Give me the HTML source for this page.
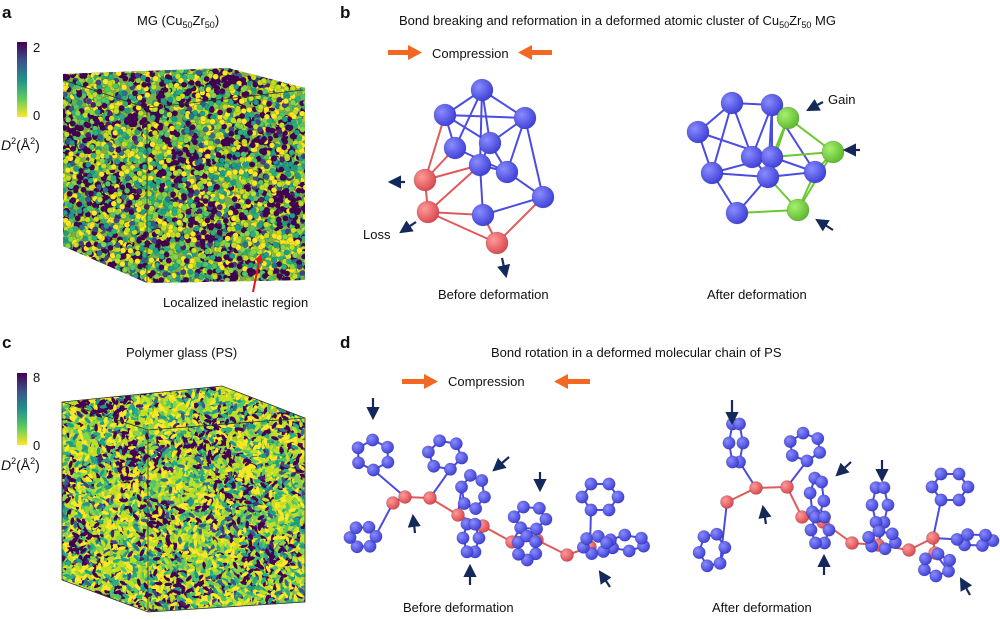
<!DOCTYPE html>
<html><head><meta charset="utf-8">
<style>
html,body{margin:0;padding:0;background:#fff;}
svg{display:block;font-family:"Liberation Sans",sans-serif;}
</style></head>
<body>
<svg id="s" width="1000" height="619" viewBox="0 0 1000 619" xmlns="http://www.w3.org/2000/svg">
<defs>
<linearGradient id="vir" x1="0" y1="1" x2="0" y2="0">
<stop offset="0" stop-color="#fde725"/><stop offset="0.25" stop-color="#5ec962"/><stop offset="0.5" stop-color="#21918c"/><stop offset="0.75" stop-color="#3b528b"/><stop offset="1" stop-color="#440154"/>
</linearGradient>
<radialGradient id="gb" cx="0.35" cy="0.35" r="0.7"><stop offset="0" stop-color="#8a8cff"/><stop offset="1" stop-color="#3c3ed6"/></radialGradient>
<radialGradient id="gr" cx="0.35" cy="0.35" r="0.7"><stop offset="0" stop-color="#ff9a9a"/><stop offset="1" stop-color="#d9474c"/></radialGradient>
<radialGradient id="gg" cx="0.35" cy="0.35" r="0.7"><stop offset="0" stop-color="#a6f070"/><stop offset="1" stop-color="#5cb82a"/></radialGradient>
<clipPath id="ca"><polygon points="63,74 228,68 305,88 305,280 147,283 63,246"/></clipPath>
<clipPath id="cc"><polygon points="62,402 222,386 305,418 305,602 148,612 62,580"/></clipPath>
<marker id="ah" markerWidth="6" markerHeight="6" refX="5" refY="3" orient="auto" markerUnits="strokeWidth"><path d="M0,0 L6,3 L0,6 z" fill="#14285a"/></marker>
</defs>
<g font-size="13" fill="#111">
<text x="2" y="18" font-weight="bold" font-size="17">a</text>
<text x="340" y="18" font-weight="bold" font-size="17">b</text>
<text x="2" y="348" font-weight="bold" font-size="17">c</text>
<text x="340" y="348" font-weight="bold" font-size="17">d</text>
<text x="137" y="25">MG (Cu<tspan font-size="9" dy="3">50</tspan><tspan dy="-3">Zr</tspan><tspan font-size="9" dy="3">50</tspan><tspan dy="-3">)</tspan></text>
<text x="399" y="25">Bond breaking and reformation in a deformed atomic cluster of Cu<tspan font-size="9" dy="3">50</tspan><tspan dy="-3">Zr</tspan><tspan font-size="9" dy="3">50</tspan><tspan dy="-3"> MG</tspan></text>
<text x="126" y="357">Polymer glass (PS)</text>
<text x="491" y="357">Bond rotation in a deformed molecular chain of PS</text>
<text x="432" y="58">Compression</text>
<text x="448" y="386">Compression</text>
<text x="438" y="299">Before deformation</text>
<text x="707" y="299">After deformation</text>
<text x="403" y="612">Before deformation</text>
<text x="712" y="612">After deformation</text>
<text x="163" y="307">Localized inelastic region</text>
<text x="363" y="239">Loss</text>
<text x="828" y="104">Gain</text>
<text x="33" y="52">2</text><text x="33" y="120">0</text>
<text x="33" y="382">8</text><text x="33" y="450">0</text>
<text x="1" y="150" font-size="14"><tspan font-style="italic">D</tspan><tspan font-size="9" dy="-6">2</tspan><tspan dy="6">(Å</tspan><tspan font-size="9" dy="-6">2</tspan><tspan dy="6">)</tspan></text>
<text x="1" y="470" font-size="14"><tspan font-style="italic">D</tspan><tspan font-size="9" dy="-6">2</tspan><tspan dy="6">(Å</tspan><tspan font-size="9" dy="-6">2</tspan><tspan dy="6">)</tspan></text>
</g>
<rect x="17" y="42" width="10" height="75" fill="url(#vir)"/>
<rect x="17" y="373" width="10" height="72" fill="url(#vir)"/>
<g fill="#f26722">
<rect x="388" y="50" width="22" height="5"/><polygon points="408,45 422,52.5 408,60"/>
<rect x="530" y="50" width="22" height="5"/><polygon points="532,45 518,52.5 532,60"/>
<rect x="402" y="379" width="24" height="5"/><polygon points="424,374 438,381.5 424,389"/>
<rect x="566" y="379" width="24" height="5"/><polygon points="568,374 554,381.5 568,389"/>
</g>
<g id="cubeA" clip-path="url(#ca)"></g>
<g id="cubeC" clip-path="url(#cc)"></g>
<g fill="none" stroke="#333" stroke-width="0.8">
<polyline points="147,108 147,282"/><polyline points="63,80 147,108 303,90"/>
<polyline points="148,430 148,612"/><polyline points="62,402 148,430 305,418"/>
<polygon points="62,402 222,386 305,418 305,602 148,612 62,580"/>
</g>
<line x1="253" y1="292" x2="259" y2="262" stroke="#e8141e" stroke-width="2"/>
<polygon points="255,260 263,263 261,254" fill="#e8141e"/>
<g id="mol"></g>
</svg>
<script>
var NS="http://www.w3.org/2000/svg";
function el(p,t,a){var e=document.createElementNS(NS,t);for(var k in a)e.setAttribute(k,a[k]);p.appendChild(e);return e;}
var seed=7;function rnd(){seed=(seed*16807)%2147483647;return seed/2147483647;}
var vir=["#fde725","#c2df23","#86d549","#52c569","#2ab07f","#1e9b8a","#25858e","#2d708e","#38588c","#433e85","#482173","#440154"];
function cube(g,x0,y0,x1,y1,n,r,bias,elong,yb){
 g=document.getElementById(g);
 el(g,"rect",{x:x0,y:y0,width:x1-x0,height:y1-y0,fill:elong?"#9cc840":"#7aae4a"});
 for(var i=0;i<n;i++){var x=x0+rnd()*(x1-x0),y=y0+rnd()*(y1-y0);
  var blob=Math.sin(x*0.05+y*0.03)*Math.cos(y*0.06-x*0.02);
  var v=rnd();var c;
  if(v<bias+blob*0.25) c="#440154"; else if(rnd()<yb) c=vir[Math.floor(rnd()*2)]; else c=vir[Math.floor(rnd()*6)];
  if(rnd()<0.08)c=vir[7+Math.floor(rnd()*4)];
  if(elong){el(g,"ellipse",{cx:x,cy:y,rx:r*1.8,ry:r*0.8,fill:c,transform:"rotate("+(rnd()*180)+" "+x+" "+y+")"});}
  else el(g,"circle",{cx:x,cy:y,r:r,fill:c,stroke:"rgba(0,0,0,0.25)","stroke-width":0.4});
 }
}
cube("cubeA",60,65,308,288,5200,2.8,0.28,false,0.2);
cube("cubeC",60,384,308,614,8000,2.2,0.2,true,0.35);
var M=document.getElementById("mol");
function bond(a,b,c){el(M,"line",{x1:a[0],y1:a[1],x2:b[0],y2:b[1],stroke:c||"#4b4de0","stroke-width":2});}
function atom(p,r,f){el(M,"circle",{cx:p[0],cy:p[1],r:r,fill:f,stroke:"rgba(0,0,40,0.25)","stroke-width":0.6});}
function arrow(x1,y1,x2,y2){el(M,"line",{x1:x1,y1:y1,x2:x2,y2:y2,stroke:"#14285a","stroke-width":2.2,"marker-end":"url(#ah)"});}
var B=[[482,90],[445,115],[525,118],[455,148],[490,143],[480,165],[507,172],[543,197],[483,215]];
var R=[[425,180],[428,212],[497,243]];
[[0,1],[0,2],[0,3],[0,5],[1,2],[1,4],[1,3],[2,4],[2,6],[2,7],[3,6],[4,5],[5,6],[5,8],[6,7],[7,8],[4,6],[0,4]].forEach(function(e){bond(B[e[0]],B[e[1]]);});
[[0,1],[1,2],[0,[445,115]],[0,B[5]],[0,B[3]],[1,B[5]],[1,B[8]],[2,B[8]],[2,B[7]]].forEach(function(e){bond(R[e[0]],typeof e[1]=="number"?R[e[1]]:e[1],"#e05a5a");});
B.forEach(function(p){atom(p,11,"url(#gb)");});R.forEach(function(p){atom(p,11,"url(#gr)");});
var A=[[732,103],[772,105],[698,132],[752,157],[772,157],[712,173],[768,177],[815,172],[737,213]];
var G=[[788,118],[833,152],[798,210]];
[[0,1],[0,2],[0,5],[0,3],[1,3],[1,4],[1,6],[2,5],[2,4],[3,4],[3,6],[4,7],[5,6],[5,8],[6,8],[6,7],[4,5],[1,7]].forEach(function(e){bond(A[e[0]],A[e[1]]);});
[[0,1],[1,2],[0,A[4]],[0,A[6]],[1,A[7]],[2,A[6]],[2,A[7]],[2,A[8]],[1,A[4]]].forEach(function(e){bond(G[e[0]],typeof e[1]=="number"?G[e[1]]:e[1],"#6cc832");});
A.forEach(function(p){atom(p,11,"url(#gb)");});G.forEach(function(p){atom(p,11,"url(#gg)");});
arrow(405,182,390,182);arrow(416,222,401,232);arrow(502,258,506,276);
arrow(823,102,808,110);arrow(860,150,845,150);arrow(833,230,817,220);
function ring(cx,cy,rx,ry,rot){var p=[];for(var i=0;i<6;i++){var a=i*Math.PI/3+(rot||0);p.push([cx+rx*Math.cos(a),cy+ry*Math.sin(a)]);}
 for(var i=0;i<6;i++)bond(p[i],p[(i+1)%6]);return p;}
function chain(red,rings,links){
 var all=[];
 for(var i=0;i<red.length-1;i++)bond(red[i],red[i+1],"#e05a5a");
 rings.forEach(function(r){all.push(ring(r[0],r[1],r[2],r[3],r[4]));});
 links.forEach(function(l){bond(red[l[0]],all[l[1]][l[2]]);});
 red.forEach(function(p){atom(p,6.5,"url(#gr)");});
 all.forEach(function(rg){rg.forEach(function(p){atom(p,6.2,"url(#gb)");});});
}
chain([[393,503],[405,497],[430,498],[458,515],[483,526],[512,542],[537,540],[567,555],[590,547]],
 [[373,455,17,15,0.5],[445,455,17,15,0.2],[363,537,13,11,1],[473,492,12,17,0.3],[471,538,8,16,0],[530,518,16,12,0.1],[527,548,10,12,0.5],[600,497,18,15,0],[627,543,18,8,0.4],[595,545,12,9,0.8]],
 [[0,2,0],[1,0,1],[2,1,1],[3,3,3],[4,4,0],[5,5,2],[6,6,0],[8,7,2],[8,9,3]]);
chain([[727,502],[756,488],[787,487],[802,517],[823,522],[852,543],[878,545],[909,550],[933,538],[935,553]],
 [[736,443,7,22,0],[805,447,16,14,0.4],[712,550,13,17,0.9],[817,497,7,20,0.2],[820,530,9,15,0],[880,505,8,20,0],[882,540,14,9,0.3],[950,487,18,15,0],[937,565,14,11,0.6],[975,540,18,6,0.1]],
 [[1,0,1],[2,1,1],[0,2,0],[3,3,1],[4,4,0],[6,5,1],[6,6,3],[8,7,2],[9,8,0],[8,9,3]]);
arrow(373,398,373,418);arrow(415,533,413,516);arrow(509,457,494,470);arrow(540,472,540,490);arrow(470,585,470,566);arrow(610,587,600,572);
arrow(732,400,732,423);arrow(766,524,763,507);arrow(851,462,837,475);arrow(882,460,882,480);arrow(824,575,824,556);arrow(970,595,961,579);
</script>
</body></html>
